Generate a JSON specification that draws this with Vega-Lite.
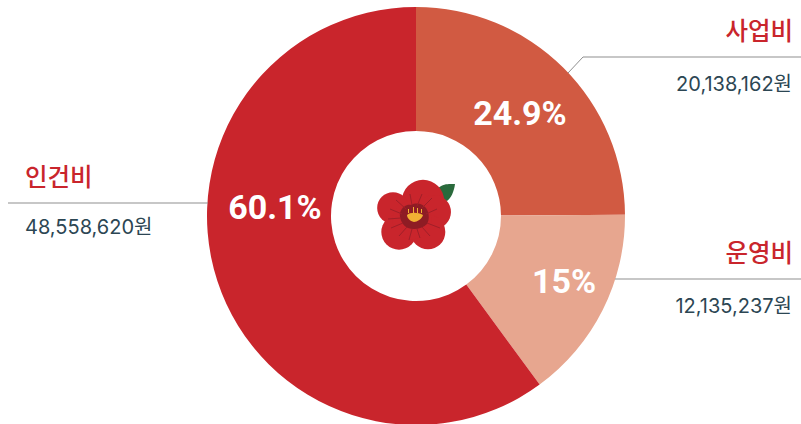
{
"$schema":"https://vega.github.io/schema/vega-lite/v6.json",
"width":801,"height":424,"padding":0,"autosize":"none",
"background":"white",
"config":{"view":{"stroke":null},"axis":{"domain":false}},
"datasets":{
"pie":[{"항목":"사업비","금액":20138162,"cx":416,"cy":216,"o":1},{"항목":"운영비","금액":12135237,"cx":416,"cy":216,"o":2},{"항목":"인건비","금액":48558620,"cx":416,"cy":216,"o":3}],
"lines":[{"g":"사업비","i":1,"x":568,"y":73},{"g":"사업비","i":2,"x":583,"y":57},{"g":"사업비","i":3,"x":801,"y":57},{"g":"인건비","i":1,"x":8,"y":203},{"g":"인건비","i":2,"x":208,"y":203},{"g":"운영비","i":1,"x":615,"y":279},{"g":"운영비","i":2,"x":801,"y":279}],
"namesR":[{"t":"사업비","x":793,"y":33},{"t":"운영비","x":793,"y":255}],
"namesL":[{"t":"인건비","x":25,"y":179}],
"amountsR":[{"t":"20,138,162원","x":792,"y":85},{"t":"12,135,237원","x":792,"y":307}],
"amountsL":[{"t":"48,558,620원","x":25,"y":228}],
"pct":[{"t":"24.9%","x":520,"y":115},{"t":"15%","x":564,"y":283},{"t":"60.1%","x":275,"y":209}],
"flower":[{"x":414,"y":216}],
"petals":[{"x":423,"y":201,"s":1800},{"x":393,"y":208,"s":1000},{"x":434,"y":212,"s":1150},{"x":399,"y":232,"s":1250},{"x":428,"y":232,"s":1200},{"x":412,"y":220,"s":1500}]
},
"layer":[
{"data":{"name":"pie"},"mark":{"type":"arc","outerRadius":209,"innerRadius":85,"stroke":null},
 "encoding":{"x":{"field":"cx","type":"quantitative","scale":{"domain":[0,801],"nice":false,"zero":false},"axis":null},
 "y":{"field":"cy","type":"quantitative","scale":{"domain":[424,0],"nice":false,"zero":false},"axis":null},
 "theta":{"field":"금액","type":"quantitative","stack":true},
 "order":{"field":"o","type":"quantitative"},
 "color":{"field":"항목","type":"nominal","legend":null,"scale":{"domain":["사업비","운영비","인건비"],"range":["#d15a42","#e7a68f","#c9252c"]}}}},
{"data":{"name":"lines"},"mark":{"type":"line","color":"#8f8f8f","strokeWidth":1},
 "encoding":{"x":{"field":"x","type":"quantitative"},"y":{"field":"y","type":"quantitative"},"detail":{"field":"g"},"order":{"field":"i","type":"quantitative"}}},
{"data":{"name":"namesR"},"mark":{"type":"text","font":"Noto Sans CJK KR","fontSize":24.5,"fontWeight":500,"color":"#c9252c","baseline":"middle","align":"right"},
 "encoding":{"x":{"field":"x","type":"quantitative"},"y":{"field":"y","type":"quantitative"},"text":{"field":"t"}}},
{"data":{"name":"namesL"},"mark":{"type":"text","font":"Noto Sans CJK KR","fontSize":24.5,"fontWeight":500,"color":"#c9252c","baseline":"middle","align":"left"},
 "encoding":{"x":{"field":"x","type":"quantitative"},"y":{"field":"y","type":"quantitative"},"text":{"field":"t"}}},
{"data":{"name":"amountsR"},"mark":{"type":"text","font":"Inter, Noto Sans CJK KR","fontSize":20,"color":"#2c4653","baseline":"middle","align":"right"},
 "encoding":{"x":{"field":"x","type":"quantitative"},"y":{"field":"y","type":"quantitative"},"text":{"field":"t"}}},
{"data":{"name":"amountsL"},"mark":{"type":"text","font":"Inter, Noto Sans CJK KR","fontSize":20,"color":"#2c4653","baseline":"middle","align":"left"},
 "encoding":{"x":{"field":"x","type":"quantitative"},"y":{"field":"y","type":"quantitative"},"text":{"field":"t"}}},
{"data":{"name":"pct"},"mark":{"type":"text","font":"Roboto","fontSize":34,"fontWeight":"bold","color":"white","baseline":"middle","align":"center"},
 "encoding":{"x":{"field":"x","type":"quantitative"},"y":{"field":"y","type":"quantitative"},"text":{"field":"t"}}},
{"data":{"name":"flower"},"mark":{"type":"point","filled":true,"opacity":1,"size":4,"color":"#2a6a3c","shape":"M24,-28 C30,-33 36,-32 41,-32 C40,-24 37,-18 33,-15 C28,-16 24,-22 24,-28 Z"},
 "encoding":{"x":{"field":"x","type":"quantitative"},"y":{"field":"y","type":"quantitative"}}},
{"data":{"name":"petals"},"mark":{"type":"point","filled":true,"opacity":1,"color":"#c9252c"},
 "encoding":{"x":{"field":"x","type":"quantitative"},"y":{"field":"y","type":"quantitative"},"size":{"field":"s","type":"quantitative","scale":null}}},
{"data":{"name":"flower"},"mark":{"type":"point","filled":true,"opacity":1,"size":4,"color":"#8e1c24","shape":"M-14,-3 C-12,-10 -6,-12 -3,-11 C3,-14 9,-12 12,-8 C15,-4 16,3 13,8 C8,13 0,14 -6,12 C-11,10 -15,3 -14,-3 Z"},
 "encoding":{"x":{"field":"x","type":"quantitative"},"y":{"field":"y","type":"quantitative"}}},
{"data":{"name":"flower"},"mark":{"type":"point","filled":false,"opacity":1,"size":4,"strokeWidth":1,"color":"#a01f28","shape":"M-18,-16 L-8,-7 M-24,-7 L-12,-2 M-26,3 L-13,2 M-23,12 L-11,7 M-15,20 L-7,11 M-5,24 L-2,13 M6,22 L3,13 M16,20 L8,11 M26,12 L13,7 M23,-7 L12,-2 M18,-18 L8,-8 M8,-22 L3,-10 M-4,-22 L-2,-11"},
 "encoding":{"x":{"field":"x","type":"quantitative"},"y":{"field":"y","type":"quantitative"}}},
{"data":{"name":"flower"},"mark":{"type":"point","filled":true,"opacity":1,"size":4,"color":"#f2b134","shape":"M-7,-1 C-4,-4 4,-4 9,-1 C8,3 3,6 0,6 C-4,5 -7,2 -7,-1 Z M-6,-7 L-5,-7 L-5,-3 L-6,-3 Z M-1,-9 L0,-9 L0,-3 L-1,-3 Z M3,-8 L4,-8 L4,-3 L3,-3 Z M7,-7 L8,-7 L8,-3 L7,-3 Z"},
 "encoding":{"x":{"field":"x","type":"quantitative"},"y":{"field":"y","type":"quantitative"}}}
]
}
